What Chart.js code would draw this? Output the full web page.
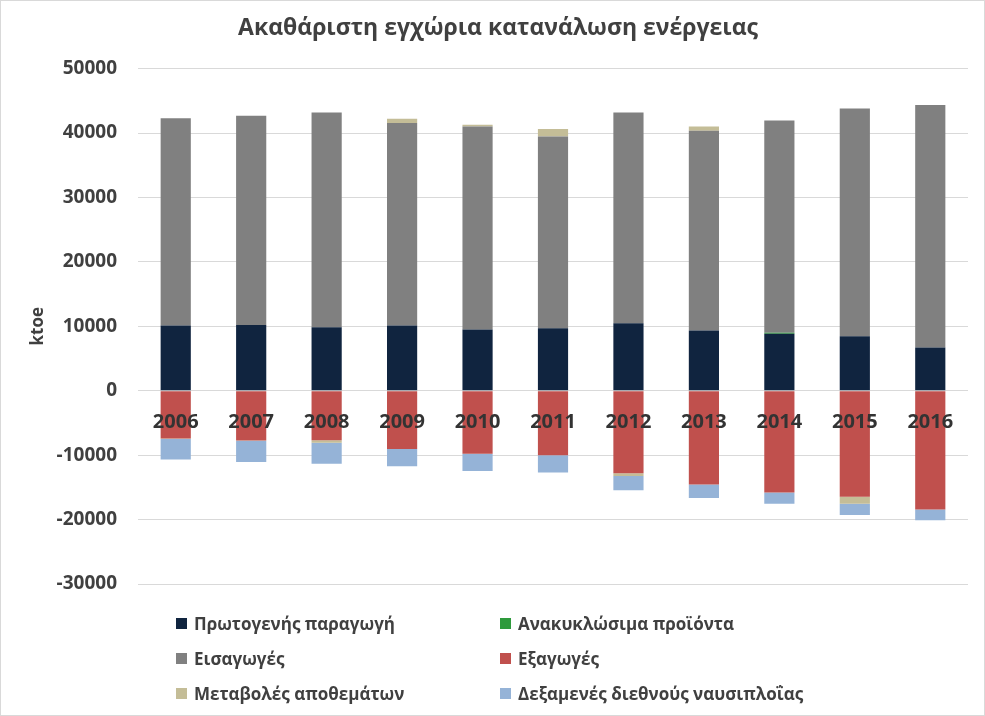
<!DOCTYPE html>
<html lang="el">
<head>
<meta charset="utf-8">
<title>Ακαθάριστη εγχώρια κατανάλωση ενέργειας</title>
<script src="https://cdn.jsdelivr.net/npm/chart.js@4.4.1/dist/chart.umd.min.js"></script>
<style>
    html, body { margin: 0; padding: 0; background: #fff; }
    #wrap { position: relative; width: 985px; height: 716px; overflow: hidden; }
    #energyChart { position: absolute; left: 0; top: 0; }
    #frame { position: absolute; left: 0; top: 0; width: 985px; height: 716px; box-sizing: border-box; border: 1px solid #d9d9d9; pointer-events: none; }
    #legend {
        position: absolute; left: 176px; top: 606px;
        display: grid; grid-template-columns: 324px 324px;
        font-family: 'Open Sans', sans-serif; font-weight: bold; font-size: 17px; color: #404040;
    }
    .item { display: flex; align-items: center; height: 35px; white-space: nowrap; }
    .swatch { width: 11px; height: 11px; margin-right: 7px; flex: none; }
</style>
</head>
<body>
<div id="wrap">
    <canvas id="energyChart" width="985" height="716"></canvas>
    <div id="legend"></div>
    <div id="frame"></div>
</div>
<script>
// Data (ktoe)
const years = ['2006', '2007', '2008', '2009', '2010', '2011', '2012', '2013', '2014', '2015', '2016'];
const primaryProduction = [10120, 10220, 9850, 10120, 9490, 9700, 10470, 9340, 8830, 8450, 6720];
const recycledProducts = [0, 0, 0, 0, 0, 0, 0, 0, 150, 0, 0];
const imports = [32180, 32470, 33350, 31430, 31540, 29780, 32730, 31020, 32980, 35370, 37620];
const exports = [-7420, -7720, -7690, -9060, -9770, -10030, -12820, -14550, -15790, -16460, -18420];
const stockChanges = [-80, -60, -400, 670, 260, 1140, -400, 670, 0, -1080, 0];
const bunkers = [-3170, -3300, -3230, -2680, -2690, -2680, -2230, -2120, -1750, -1750, -1700];
const yTicks = [50000, 40000, 30000, 20000, 10000, 0, -10000, -20000, -30000];

const textColor = '#404040';
const fontFamily = "'Open Sans', sans-serif";

const series = [
    { label: 'Πρωτογενής παραγωγή', data: primaryProduction, color: '#10243f' },
    { label: 'Ανακυκλώσιμα προϊόντα', data: recycledProducts, color: '#2e9a3c' },
    { label: 'Εισαγωγές', data: imports, color: '#808080' },
    { label: 'Εξαγωγές', data: exports, color: '#c0504d' },
    { label: 'Μεταβολές αποθεμάτων', data: stockChanges, color: '#c4bd97' },
    { label: 'Δεξαμενές διεθνούς ναυσιπλοΐας', data: bunkers, color: '#95b3d7' }
];

const ctx = document.getElementById('energyChart');
const chart = new Chart(ctx, {
    type: 'bar',
    data: {
        labels: years,
        datasets: series.map(s => ({
            label: s.label,
            data: s.data,
            backgroundColor: s.color,
            borderWidth: 0,
            barPercentage: 0.4,
            categoryPercentage: 1.0,
            stack: 'energy'
        }))
    },
    options: {
        responsive: false,
        animation: false,
        layout: {
            padding: { left: 28, right: 17, top: 0, bottom: 132 }
        },
        plugins: {
            legend: { display: false },
            tooltip: { enabled: false },
            title: {
                display: true,
                text: 'Ακαθάριστη εγχώρια κατανάλωση ενέργειας',
                color: textColor,
                font: { family: fontFamily, size: 23, weight: 'bold' },
                padding: { top: 15, bottom: 26 }
            }
        },
        scales: {
            x: {
                stacked: true,
                position: { y: 0 },
                grid: { display: false },
                border: { display: false },
                ticks: {
                    z: 1, // year labels on top of the bars
                    color: '#333333',
                    font: { family: fontFamily, size: 20, weight: 'bold' },
                    padding: 12
                }
            },
            y: {
                stacked: true,
                min: -30000,
                max: 50000,
                afterBuildTicks: scale => {
                    scale.ticks = yTicks.map(v => ({ value: v }));
                },
                afterFit: scale => {
                    scale.width = 110;
                },
                grid: { color: '#d9d9d9', drawTicks: false },
                border: { display: false },
                ticks: {
                    color: textColor,
                    font: { family: fontFamily, size: 19, weight: 'bold' },
                    padding: 21,
                    callback: v => String(v)
                },
                title: {
                    display: true,
                    text: 'ktoe',
                    color: textColor,
                    font: { family: fontFamily, size: 17, weight: 'bold' },
                    padding: 0
                }
            }
        }
    }
});

// Two-column legend, same order as the original
const legendEl = document.getElementById('legend');
chart.data.datasets.forEach(ds => {
    const item = document.createElement('div');
    item.className = 'item';
    const sw = document.createElement('span');
    sw.className = 'swatch';
    sw.style.background = ds.backgroundColor;
    const txt = document.createElement('span');
    txt.textContent = ds.label;
    item.appendChild(sw);
    item.appendChild(txt);
    legendEl.appendChild(item);
});
</script>
</body>
</html>
